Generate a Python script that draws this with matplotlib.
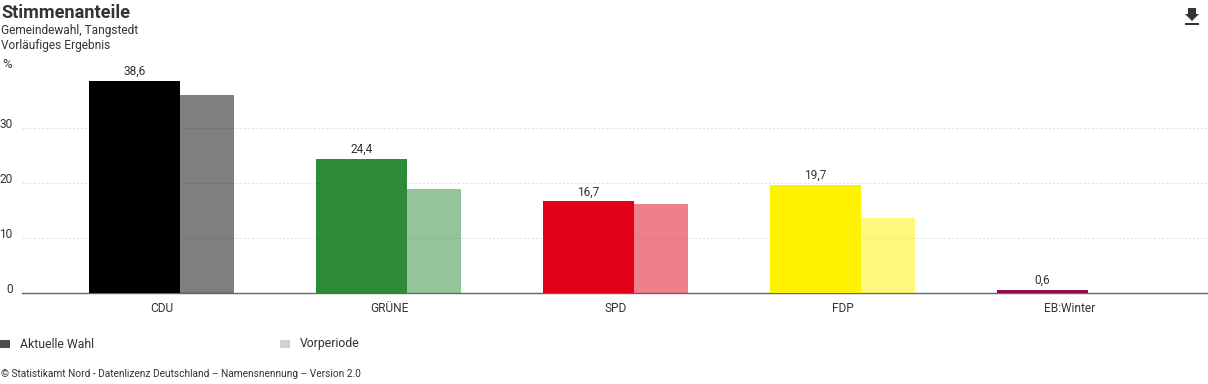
import matplotlib
matplotlib.use('Agg')
import matplotlib.pyplot as plt
from matplotlib.patches import Rectangle, Polygon
import numpy as np

parties = ['CDU', 'GRÜNE', 'SPD', 'FDP', 'EB:Winter']
current = [38.6, 24.4, 16.7, 19.7, 0.6]
previous = [36.0, 19.0, 16.1, 13.7, 0]
colors = ['#000000', '#2d8b38', '#e2001a', '#fff200', '#8e0b4f']
yticks = [0, 10, 20, 30]

W, H = 1208, 384
plt.rcParams['font.family'] = ['Roboto', 'DejaVu Sans']
TXT = '#333333'
fig = plt.figure(figsize=(W / 100, H / 100), dpi=100)

# axes placed in pixels: baseline at y=293, 5.5 px per percent
ax = fig.add_axes([22 / W, 1 - 293 / H, (W - 22) / W, 233 / H])
ax.set_xlim((22 - 162) / 227, (W - 162) / 227)
ax.set_ylim(0, 233 / 5.5)

x = np.arange(len(parties))
w1 = 91 / 227
w2 = 54 / 227
left = -73 / 227
ax.bar(x + left, current, w1, align='edge', color=colors, linewidth=0, zorder=3)
ax.bar(x + left + w1, previous, w2, align='edge', color=colors, alpha=0.5, linewidth=0, zorder=3)

for i, v in enumerate(current):
    ax.annotate(('%.1f' % v).replace('.', ','), (x[i] + left + w1 / 2, v), xytext=(0, 2),
                textcoords='offset points', ha='center', va='bottom', fontsize=8.6, color=TXT)

for s in ['top', 'right', 'left']:
    ax.spines[s].set_visible(False)
ax.spines['bottom'].set_color('#666666')
ax.spines['bottom'].set_linewidth(1)
ax.set_yticks(yticks)
ax.set_yticklabels([])
for t in yticks:
    fig.text(12.5 / W, 1 - (293 - t * 5.5 - 3.6) / H, str(t), ha='right', va='center', fontsize=8.6, color=TXT)
    if t > 0:
        ax.axhline(t, color='#dddddd', linewidth=0.7, linestyle=(0, (2, 2)), zorder=1)
ax.set_xticks(x)
ax.set_xticklabels(parties, fontsize=8.6, color=TXT)
ax.tick_params(axis='both', length=0, pad=6.5)

fig.text(1 / W, 1 - 12.5 / H, 'Stimmenanteile', fontsize=13.1, fontweight='bold', color=TXT, ha='left', va='center')
fig.text(1 / W, 1 - 30.5 / H, 'Gemeindewahl, Tangstedt', fontsize=8.6, color=TXT, ha='left', va='center')
fig.text(1 / W, 1 - 45 / H, 'Vorläufiges Ergebnis', fontsize=8.6, color=TXT, ha='left', va='center')
fig.text(7.5 / W, 1 - 64 / H, '%', fontsize=9.5, color=TXT, ha='center', va='center')

# legend
fig.patches.append(Rectangle((0, 1 - 348 / H), 10 / W, 8 / H, transform=fig.transFigure, color='#4d4d4d', lw=0))
fig.patches.append(Rectangle((280 / W, 1 - 348 / H), 10 / W, 8 / H, transform=fig.transFigure, color='#d0d0d0', lw=0))
fig.text(20 / W, 1 - 344 / H, 'Aktuelle Wahl', fontsize=8.8, color=TXT, ha='left', va='center')
fig.text(300 / W, 1 - 344 / H, 'Vorperiode', fontsize=8.8, color=TXT, ha='left', va='center')

fig.text(1 / W, 1 - 374 / H, '© Statistikamt Nord - Datenlizenz Deutschland – Namensnennung – Version 2.0',
         fontsize=7.25, color=TXT, ha='left', va='center')

# download icon
icon = [(1188, 8), (1196, 8), (1196, 14), (1199, 14), (1192, 21), (1185, 14), (1188, 14)]
fig.patches.append(Polygon([(a / W, 1 - b / H) for a, b in icon], transform=fig.transFigure, color='#333333', lw=0))
fig.patches.append(Rectangle((1185 / W, 1 - 25 / H), 14 / W, 2 / H, transform=fig.transFigure, color='#333333', lw=0))

fig.savefig('out.png', dpi=100)
